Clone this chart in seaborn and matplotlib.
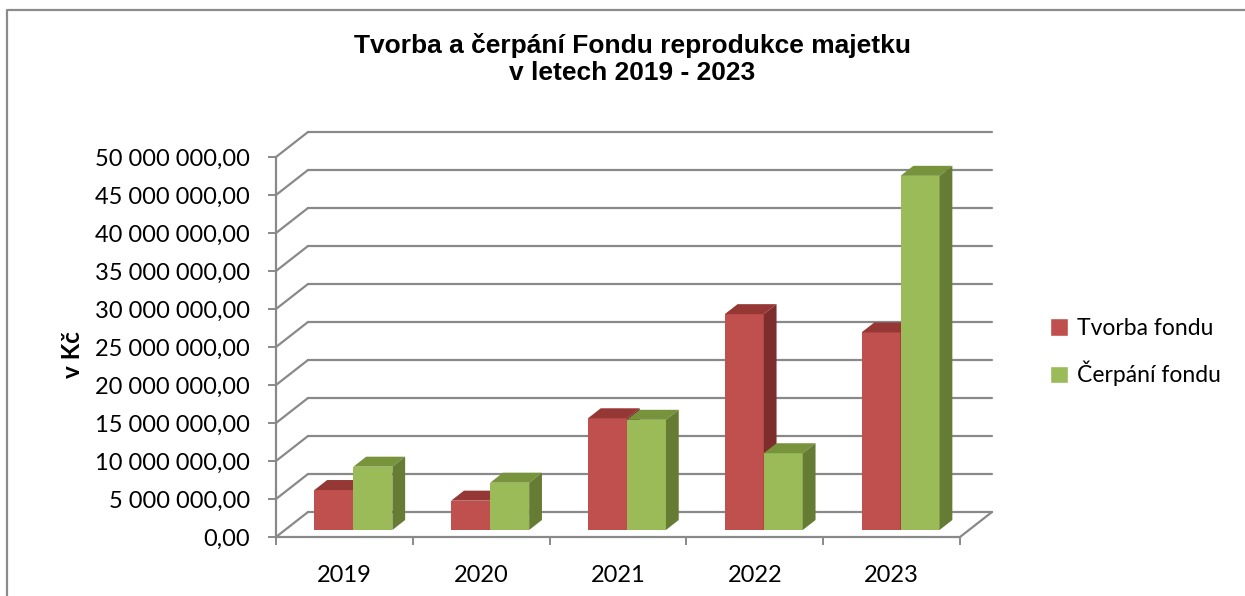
import numpy as np
import pandas as pd
import seaborn as sns
import matplotlib
matplotlib.use('Agg')
import matplotlib.pyplot as plt
from matplotlib.patches import Polygon
from matplotlib.lines import Line2D
from matplotlib.ticker import FuncFormatter

years = ['2019', '2020', '2021', '2022', '2023']
tvorba = [5.26e6, 3.86e6, 14.7e6, 28.4e6, 26.0e6]
cerpani = [8.33e6, 6.22e6, 14.5e6, 10.1e6, 46.6e6]
series_names = ['Tvorba fondu', 'Čerpání fondu']
y_ticks = np.arange(0, 50e6 + 1, 5e6)

front_cols = ['#C0504D', '#9BBB59']
top_cols = ['#953735', '#77933C']
side_cols = ['#7D2E2C', '#667C35']
grid_col = '#898989'

df = pd.DataFrame({
    'rok': years * 2,
    'hodnota': tvorba + cerpani,
    'rada': [series_names[0]] * 5 + [series_names[1]] * 5,
})

sns.set_style('white')
plt.rcParams['font.family'] = ['Lato', 'DejaVu Sans']
plt.rcParams['text.color'] = 'black'
plt.rcParams['xtick.labelcolor'] = 'black'
plt.rcParams['ytick.labelcolor'] = 'black'

W, H = 1245, 596
fig = plt.figure(figsize=(W / 100, H / 100), dpi=100)
# front plane of the 3d box
x0, x1, y0, y1 = 276, 960, 537, 157
ax = fig.add_axes([x0 / W, 1 - y0 / H, (x1 - x0) / W, (y0 - y1) / H])

sns.barplot(data=df, x='rok', y='hodnota', hue='rada', palette=front_cols,
            width=0.57, saturation=1, ax=ax, legend=True, zorder=3)
ax.set_xlim(-0.5, 4.5)
ax.set_ylim(0, 50e6)

# pixel -> data conversions
px_x = (x1 - x0) / 5.0
px_y = (y0 - y1) / 50e6
wall_dx, wall_dy = 32 / px_x, 25 / px_y
f_front, f_depth = 0.28, 0.40

# back wall gridlines + left wall diagonals
for v in y_ticks:
    ax.add_line(Line2D([-0.5 + wall_dx, 4.5 + wall_dx], [v + wall_dy, v + wall_dy],
                       color=grid_col, lw=1.6, clip_on=False, zorder=1))
    ax.add_line(Line2D([-0.5, -0.5 + wall_dx], [v, v + wall_dy],
                       color=grid_col, lw=1.6, clip_on=False, zorder=1))
ax.add_line(Line2D([4.5, 4.5 + wall_dx], [0, wall_dy],
                   color=grid_col, lw=1.6, clip_on=False, zorder=1))

# move bars to their depth and add top / side faces
ox, oy = f_front * wall_dx, f_front * wall_dy
bx, by = f_depth * wall_dx, f_depth * wall_dy
bars = [p for p in ax.patches if p.get_height() > 0]
order = sorted(range(len(bars)), key=lambda i: bars[i].get_x())
red_rgb = list(matplotlib.colors.to_rgb(front_cols[0]))
for n, i in enumerate(order):
    p = bars[i]
    k = 0 if list(p.get_facecolor()[:3]) == red_rgb else 1
    p.set_x(p.get_x() + ox)
    p.set_y(p.get_y() + oy)
    p.set_edgecolor('none')
    p.set_clip_on(False)
    xl, w = p.get_x(), p.get_width()
    yb, h = p.get_y(), p.get_height()
    z = 3 + 0.01 * n
    p.set_zorder(z)
    top = Polygon([(xl, yb + h), (xl + bx, yb + h + by), (xl + w + bx, yb + h + by), (xl + w, yb + h)],
                  closed=True, facecolor=top_cols[k], edgecolor='none', clip_on=False, zorder=z)
    side = Polygon([(xl + w, yb), (xl + w + bx, yb + by), (xl + w + bx, yb + h + by), (xl + w, yb + h)],
                   closed=True, facecolor=side_cols[k], edgecolor='none', clip_on=False, zorder=z)
    ax.add_patch(top)
    ax.add_patch(side)

sns.despine(ax=ax, top=True, right=True)
for s in ['left', 'bottom']:
    ax.spines[s].set_color(grid_col)
    ax.spines[s].set_linewidth(1.6)

ax.set_yticks(y_ticks)
ax.yaxis.set_major_formatter(FuncFormatter(lambda v, pos: '{:,.2f}'.format(v).replace(',', ' ').replace('.', ',')))
ax.tick_params(axis='y', length=5.8, width=1.4, color=grid_col, pad=13, labelsize=17, left=True)
ax.tick_params(axis='x', which='major', length=0, pad=20, labelsize=17)
ax.set_xticks(np.arange(-0.5, 5, 1), minor=True)
ax.tick_params(axis='x', which='minor', length=5.8, width=1.4, color=grid_col, bottom=True)
ax.set_xlabel('')
ax.set_ylabel('')
ax.grid(False)

leg = ax.legend(loc='center left', bbox_to_anchor=(1050 / W, 1 - 352 / H),
                bbox_transform=fig.transFigure, frameon=False, fontsize=16.5,
                handlelength=0.78, handleheight=0.78, handletextpad=0.4, labelspacing=0.95,
                borderpad=0, borderaxespad=0)

fig.text(73 / W, 1 - 355 / H, 'v Kč', rotation=90, ha='center', va='center',
         fontsize=17.5, fontweight='bold')
fig.text(632 / W, 1 - 59 / H, 'Tvorba a čerpání Fondu reprodukce majetku\nv letech 2019 - 2023',
         ha='center', va='center', fontsize=19, fontweight='bold', linespacing=1.18,
         family=['Liberation Sans', 'DejaVu Sans'])

# chart frame
fig.add_artist(Line2D([7 / W, 7 / W, 1], [0, 1 - 10 / H, 1 - 10 / H],
                      transform=fig.transFigure, color='#8C8C8C', lw=1.6))

fig.savefig('out.png', dpi=100)
